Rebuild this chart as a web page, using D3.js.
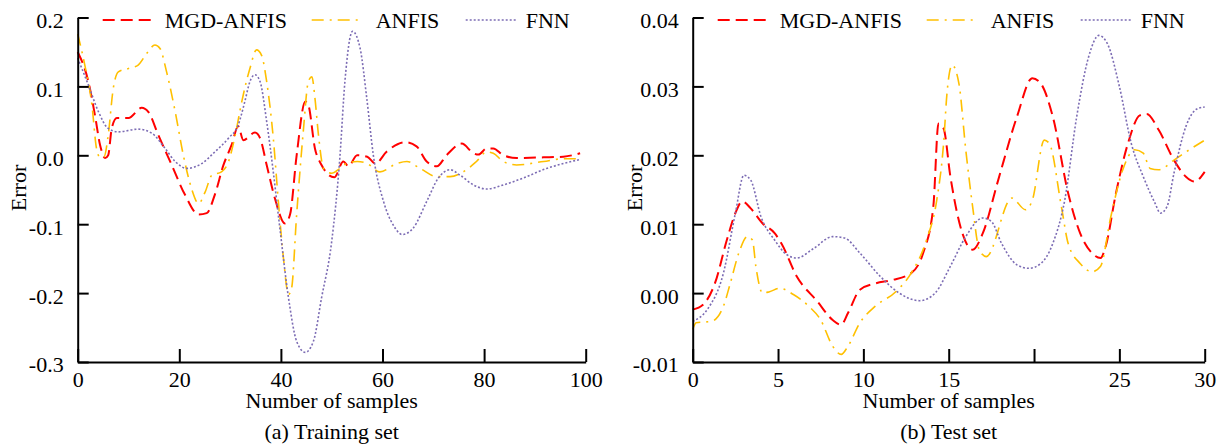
<!DOCTYPE html>
<html>
<head>
<meta charset="utf-8">
<script src="https://cdn.jsdelivr.net/npm/d3@7"></script>
<style>
  html, body { margin: 0; padding: 0; background: #fff; }
  svg { display: block; font-family: "Liberation Serif", "Times New Roman", serif; }
</style>
</head>
<body>
<svg id="chart" width="1223" height="447"></svg>
<script>
// Error curves, [sample index, error]
const trainMGD = [[0,0.150],[2.1,0.107],[3.4,0.058],[4.4,0.015],[5.4,-0.004],[6.0,0.0],[6.7,0.039],[7.7,0.054],[10,0.054],[12.6,0.069],[13.9,0.063],[15.9,0.029],[18.5,-0.014],[21.1,-0.057],[23.8,-0.086],[25.4,-0.084],[27,-0.057],[28.7,-0.014],[30.3,0.015],[31.6,0.042],[32.6,0.022],[34.9,0.033],[35.9,0.025],[37.2,-0.014],[38.8,-0.062],[40.8,-0.099],[41.8,-0.086],[43.1,0.0],[44.8,0.078],[45.4,0.073],[46.7,0.010],[48,-0.014],[50.5,-0.032],[52.3,-0.009],[53.3,-0.016],[55,0.0],[57,-0.002],[58.6,-0.012],[60.8,0.005],[64.4,0.019],[66.7,0.013],[68.7,-0.009],[70.7,-0.016],[72.6,0.0],[75.6,0.017],[77.9,0.003],[78.9,0.001],[80.5,0.010],[81.8,0.010],[83.8,0.0],[86.4,-0.004],[91.7,-0.003],[95.6,-0.002],[98.9,0.003]];
const trainANFIS = [[0,0.176],[1.4,0.131],[2.8,0.073],[3.7,0.010],[4.4,-0.003],[5.2,-0.002],[6.0,0.029],[7.0,0.097],[8.0,0.121],[10,0.126],[11.9,0.131],[13.6,0.148],[15.2,0.160],[16.2,0.155],[17.5,0.121],[19.2,0.063],[20.8,0.0],[22.4,-0.048],[23.8,-0.070],[25.1,-0.053],[26.4,-0.029],[28.3,-0.024],[29.7,-0.009],[31,0.029],[32.3,0.078],[33.9,0.126],[35.2,0.153],[36.2,0.145],[37.2,0.107],[38.5,0.025],[39.5,-0.067],[40.5,-0.149],[41.5,-0.202],[42.1,-0.193],[43.1,-0.086],[44.4,0.034],[45.4,0.107],[46.1,0.114],[46.7,0.083],[47.4,0.029],[48.4,-0.019],[50,-0.026],[51.6,-0.019],[52.9,-0.012],[55,-0.009],[57,-0.012],[59.5,-0.024],[62.8,-0.012],[64.8,-0.009],[67.4,-0.019],[70.7,-0.031],[73.3,-0.031],[75.9,-0.024],[78.5,-0.009],[80.5,0.005],[81.8,0.003],[83.8,-0.009],[86.4,-0.014],[91.7,-0.009],[95.6,-0.005],[98.9,-0.005]];
const trainFNN = [[0,0.141],[2.1,0.102],[4.1,0.063],[6.0,0.039],[8.0,0.034],[11.9,0.038],[14.6,0.032],[17.2,0.010],[19.2,-0.009],[21.5,-0.019],[24.4,-0.012],[27,0.005],[29.7,0.025],[31.6,0.044],[32.9,0.078],[33.9,0.107],[34.9,0.117],[35.9,0.107],[37.2,0.049],[38.5,-0.024],[39.8,-0.106],[41.5,-0.207],[43.1,-0.270],[44.8,-0.286],[46.4,-0.270],[48.0,-0.207],[50,-0.125],[51.6,-0.004],[52.6,0.107],[54.1,0.180],[55.6,0.155],[56.9,0.083],[58.2,0.0],[60.2,-0.067],[62.1,-0.101],[63.9,-0.115],[66,-0.106],[68.7,-0.067],[71,-0.033],[73.3,-0.021],[75.3,-0.029],[77.9,-0.043],[80.5,-0.049],[83.8,-0.043],[87.7,-0.033],[92.3,-0.019],[95.6,-0.012],[98.9,-0.006]];

const testMGD = [[0,-0.0024],[0.6,-0.0017],[1.3,0.0014],[2.0,0.0077],[2.5,0.0116],[2.9,0.0133],[3.4,0.0123],[4.1,0.0101],[4.8,0.0087],[5.2,0.0072],[6.1,0.0024],[7.3,-0.0012],[8.2,-0.0039],[8.7,-0.0046],[9.1,-0.0029],[9.8,0.0005],[10.7,0.0014],[11.7,0.0019],[12.8,0.0029],[13.5,0.0058],[14.1,0.0126],[14.4,0.0246],[14.7,0.0239],[15.1,0.0169],[15.8,0.0087],[16.4,0.0063],[17.0,0.0087],[17.9,0.0164],[19.0,0.0256],[19.9,0.0312],[20.4,0.0304],[21.1,0.0256],[22.0,0.0145],[22.7,0.0087],[23.4,0.0058],[23.9,0.0051],[24.2,0.0068],[24.8,0.0145],[25.5,0.0217],[26.2,0.0258],[26.6,0.0260],[27.3,0.0237],[28.2,0.0193],[28.9,0.0169],[29.4,0.0162],[30,0.0176]];
const testANFIS = [[0,-0.0053],[0.2,-0.0043],[1.1,-0.0041],[1.8,-0.0019],[2.2,0.0014],[2.7,0.0058],[3.2,0.0082],[3.5,0.0077],[3.7,0.0039],[4.1,0.0],[4.5,0.0002],[5.1,0.0007],[5.9,-0.0002],[6.8,-0.0019],[7.5,-0.0039],[8.2,-0.0077],[8.7,-0.0089],[9.1,-0.0077],[9.8,-0.0043],[10.7,-0.0019],[11.9,0.0002],[12.8,0.0029],[13.7,0.0077],[14.3,0.0135],[14.7,0.0217],[14.9,0.0290],[15.2,0.0331],[15.6,0.0304],[16.0,0.0208],[16.4,0.0126],[16.8,0.0062],[17.2,0.0053],[18.7,0.0138],[19.5,0.0121],[19.9,0.0135],[20.6,0.0222],[20.9,0.0217],[21.6,0.0126],[22.0,0.0072],[22.7,0.0043],[23.4,0.0031],[23.9,0.0039],[24.5,0.0111],[25.2,0.0179],[25.9,0.0208],[26.4,0.0203],[26.8,0.0181],[27.3,0.0179],[28.2,0.0193],[29.1,0.0208],[30,0.0222]];
const testFNN = [[0,-0.0041],[0.85,-0.0024],[1.8,0.0029],[2.5,0.0116],[3.0,0.0171],[3.4,0.0164],[4.0,0.0111],[4.8,0.0077],[5.5,0.0056],[6.1,0.0051],[7.1,0.0065],[8.2,0.0082],[8.9,0.0080],[9.8,0.0058],[11.0,0.0024],[12.1,0.0],[13.3,-0.0011],[14.2,0.0],[15.1,0.0039],[16.0,0.0082],[17.0,0.0109],[17.5,0.0104],[18.1,0.0072],[19.0,0.0041],[19.7,0.0036],[20.4,0.0043],[21.1,0.0072],[21.8,0.0135],[22.5,0.0256],[23.2,0.0343],[23.8,0.0374],[24.3,0.0362],[25,0.0300],[25.7,0.0217],[26.4,0.0169],[27.1,0.0130],[27.4,0.0116],[27.8,0.0126],[28.2,0.0174],[28.9,0.0242],[29.6,0.0268],[30,0.0270]];

const seriesNames = ["MGD-ANFIS", "ANFIS", "FNN"];
const trainXTicks = [0, 20, 40, 60, 80, 100];
const trainYTicks = [-0.3, -0.2, -0.1, 0.0, 0.1, 0.2];
const testXTicks = [0, 5, 10, 15, 20, 25, 30];
const testXTickLabels = ["0", "5", "10", "15", "", "25", "30"];
const testYTicks = [-0.01, 0.00, 0.01, 0.02, 0.03, 0.04];
const captions = ["(a) Training set", "(b) Test set"];

const styles = [
  { color: "#ff0000", width: 2, dash: "12,6" },
  { color: "#ffc000", width: 1.6, dash: "12,6,2,6" },
  { color: "#7c6cb4", width: 1.6, dash: "2,2" }
];

const svg = d3.select("#chart");
const plotTop = 17.5, plotBottom = 362;

// plain hyphen for negative numbers
const fixed = n => v => d3.format("." + n + "f")(v).replace("\u2212", "-");

const panels = [
  { left: 77.7, right: 585.7, xDom: [0, 100], yDom: [-0.3, 0.2], xTicks: trainXTicks,
    xFmt: d => String(d), yTicks: trainYTicks, yFmt: fixed(1),
    data: [trainMGD, trainANFIS, trainFNN], caption: captions[0], errorX: 18 },
  { left: 692.7, right: 1204.7, xDom: [0, 30], yDom: [-0.01, 0.04], xTicks: testXTicks,
    xFmt: (d, i) => testXTickLabels[i], yTicks: testYTicks, yFmt: fixed(2),
    data: [testMGD, testANFIS, testFNN], caption: captions[1], errorX: 634 }
];

panels.forEach(p => {
  const x = d3.scaleLinear().domain(p.xDom).range([p.left, p.right]);
  const y = d3.scaleLinear().domain(p.yDom).range([plotBottom, plotTop]);
  const g = svg.append("g");

  const line = d3.line().x(d => x(d[0])).y(d => y(d[1])).curve(d3.curveMonotoneX);
  p.data.forEach((s, i) => {
    g.append("path").datum(s)
      .attr("d", line)
      .attr("fill", "none")
      .attr("stroke", styles[i].color)
      .attr("stroke-width", styles[i].width)
      .attr("stroke-dasharray", styles[i].dash);
  });

  // axes with inward ticks
  const xAxis = d3.axisBottom(x).tickValues(p.xTicks).tickFormat(p.xFmt)
    .tickSizeInner(-13).tickSizeOuter(0).tickPadding(9.5);
  const gx = g.append("g").attr("transform", `translate(0,${plotBottom})`).call(xAxis);
  const yAxis = d3.axisLeft(y).tickValues(p.yTicks).tickFormat(p.yFmt)
    .tickSizeInner(-11).tickSizeOuter(0).tickPadding(14);
  const gy = g.append("g").attr("transform", `translate(${p.left},0)`).call(yAxis);

  [gx, gy].forEach(a => {
    a.select(".domain").attr("stroke", "#000").attr("stroke-width", 2);
    a.selectAll(".tick line").attr("stroke", "#000").attr("stroke-width", 2);
    a.selectAll(".tick text").attr("fill", "#000").style("font-size", "22px")
      .style("font-family", "Liberation Serif, serif");
  });
  gy.selectAll(".tick text").attr("dy", "0.45em");

  // legend along the top
  const legX = [[25, 76, 87], [234, 284, 298], [388, 438, 448]];
  seriesNames.forEach((name, i) => {
    const [a, b, t] = legX[i];
    g.append("line")
      .attr("x1", p.left + a).attr("x2", p.left + b)
      .attr("y1", 20).attr("y2", 20)
      .attr("stroke", styles[i].color)
      .attr("stroke-width", styles[i].width)
      .attr("stroke-dasharray", styles[i].dash);
    g.append("text").attr("x", p.left + t).attr("y", 27.5)
      .style("font-size", "22px").text(name);
  });

  const cx = (p.left + p.right) / 2;
  g.append("text").attr("x", cx).attr("y", 408).attr("text-anchor", "middle")
    .style("font-size", "22px").text("Number of samples");
  g.append("text").attr("x", cx).attr("y", 439).attr("text-anchor", "middle")
    .style("font-size", "22px").text(p.caption);
  g.append("text")
    .attr("transform", `translate(${p.errorX + 7.5},188) rotate(-90)`)
    .attr("text-anchor", "middle")
    .style("font-size", "22px").text("Error");
});
</script>
</body>
</html>
